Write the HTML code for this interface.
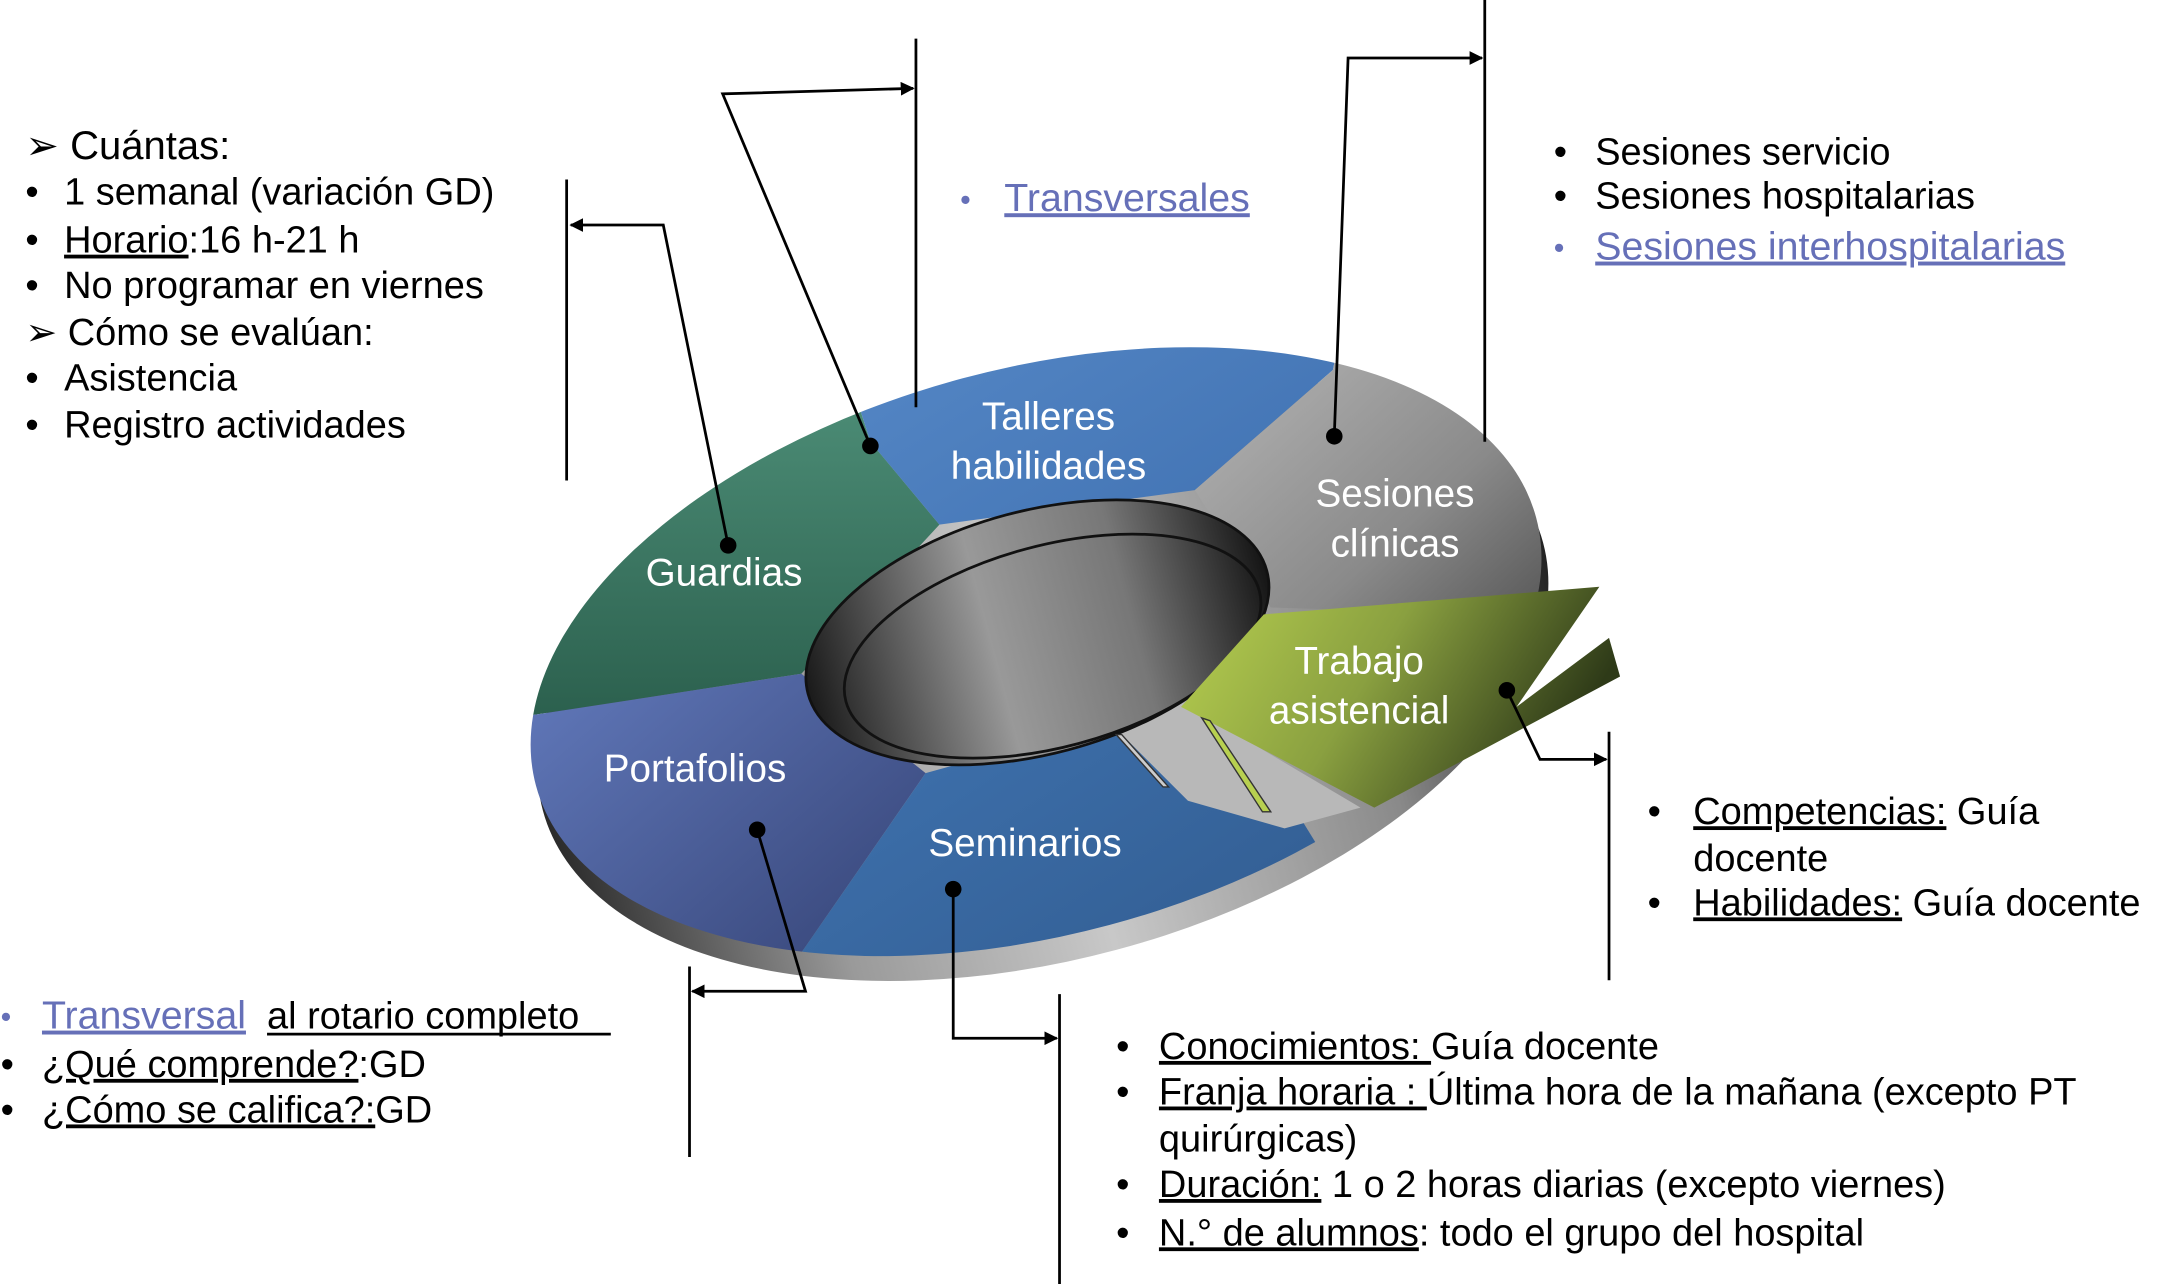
<!DOCTYPE html>
<html><head><meta charset="utf-8"><style>
html,body{margin:0;padding:0;background:#fff;}
svg{display:block;}
text{font-family:"Liberation Sans",Arial,sans-serif;}
</style></head><body>
<svg width="2166" height="1284" viewBox="0 0 1568 930" xmlns="http://www.w3.org/2000/svg">
<defs>
<linearGradient id="rim" x1="0" y1="0" x2="1" y2="0">
<stop offset="0" stop-color="#2a2a2a"/><stop offset="0.25" stop-color="#9a9a9a"/><stop offset="0.5" stop-color="#c8c8c8"/><stop offset="0.8" stop-color="#8a8a8a"/><stop offset="1" stop-color="#222"/></linearGradient>
<linearGradient id="gG" x1="0" y1="0" x2="0" y2="1"><stop offset="0" stop-color="#66b096"/><stop offset="1" stop-color="#2a5e4c"/></linearGradient>
<linearGradient id="gT" x1="0" y1="0" x2="1" y2="1"><stop offset="0" stop-color="#5f92d0"/><stop offset="1" stop-color="#3f70b0"/></linearGradient>
<linearGradient id="gS" x1="0" y1="0" x2="1" y2="1"><stop offset="0" stop-color="#d0d0d0"/><stop offset="0.6" stop-color="#8a8a8a"/><stop offset="1" stop-color="#303030"/></linearGradient>
<linearGradient id="gP" x1="0" y1="0" x2="1" y2="1"><stop offset="0" stop-color="#6c86cc"/><stop offset="1" stop-color="#26315e"/></linearGradient>
<linearGradient id="gSe" x1="0" y1="0" x2="1" y2="1"><stop offset="0" stop-color="#3f73b0"/><stop offset="1" stop-color="#2a4f7e"/></linearGradient>
<linearGradient id="gW" x1="0" y1="0" x2="1" y2="0.3"><stop offset="0" stop-color="#b8d050"/><stop offset="0.5" stop-color="#8aa040"/><stop offset="1" stop-color="#2e3a18"/></linearGradient>
<linearGradient id="hole" x1="0" y1="0" x2="1" y2="0"><stop offset="0" stop-color="#1a1a1a"/><stop offset="0.4" stop-color="#999"/><stop offset="0.7" stop-color="#777"/><stop offset="1" stop-color="#151515"/></linearGradient>
<clipPath id="outer"><ellipse cx="750" cy="472" rx="375" ry="205" transform="rotate(-15 750 472)"/></clipPath>
<marker id="ar" markerWidth="10" markerHeight="10" refX="9" refY="5" orient="auto" markerUnits="userSpaceOnUse"><path d="M0,0 L10,5 L0,10 z" fill="#000"/></marker>
</defs>

<ellipse cx="755" cy="490" rx="375" ry="205" transform="rotate(-15 755 490)" fill="url(#rim)"/>
<g clip-path="url(#outer)">
<polygon points="680,380 630,320 560,100 250,100 250,530 385,518 580,488" fill="url(#gG)"/>
<polygon points="680,380 630,320 560,100 1000,100 965,268 865,355" fill="url(#gT)"/>
<polygon points="865,355 965,268 1000,100 1250,200 1250,450 920,440" fill="url(#gS)"/>
<polygon points="580,488 385,518 250,530 250,850 580,690 670,560" fill="url(#gP)"/>
<polygon points="670,560 580,690 580,850 1100,850 940,590 850,510" fill="url(#gSe)"/>
<polygon points="800,520 850,505 985,585 930,600 860,580" fill="#b8b8b8"/>
</g>
<ellipse cx="751" cy="458" rx="172" ry="88" transform="rotate(-15 751 458)" fill="url(#hole)" stroke="#111" stroke-width="2"/>
<ellipse cx="762" cy="468" rx="155" ry="73" transform="rotate(-15 762 468)" fill="none" stroke="#111" stroke-width="2"/>
<polygon points="855,512 915,445 1158,425 1098,512 1165,462 1173,490 995,585" fill="url(#gW)"/>
<polygon points="808,532 812,532 846,570 842,570" fill="#ccc" stroke="#333"/>
<polygon points="870,520 876,522 920,588 914,588" fill="#b8d050" stroke="#333"/>

<g fill="#fff" font-size="28" text-anchor="middle">
<text x="759" y="311">Talleres</text><text x="759" y="347">habilidades</text>
<text x="1010" y="367">Sesiones</text><text x="1010" y="403">clínicas</text>
<text x="524" y="424">Guardias</text>
<text x="984" y="488">Trabajo</text><text x="984" y="524">asistencial</text>
<text x="503" y="566">Portafolios</text>
<text x="742" y="620">Seminarios</text>
</g>

<g stroke="#000" stroke-width="2" fill="none">
<line x1="410" y1="130" x2="410" y2="348"/>
<polyline points="527,395 480,163 413,163" marker-end="url(#ar)"/>
<line x1="663" y1="28" x2="663" y2="295"/>
<polyline points="630,323 523,68 661,64" marker-end="url(#ar)"/>
<line x1="1075" y1="0" x2="1075" y2="320"/>
<polyline points="966,316 976,42 1073,42" marker-end="url(#ar)"/>
<line x1="1165" y1="530" x2="1165" y2="710"/>
<polyline points="1091,500 1115,550 1163,550" marker-end="url(#ar)"/>
<line x1="499" y1="700" x2="499" y2="838"/>
<polyline points="548,601 583,718 501,718" marker-end="url(#ar)"/>
<line x1="767" y1="720" x2="767" y2="930"/>
<polyline points="690,644 690,752 765,752" marker-end="url(#ar)"/>
</g>
<g fill="#000">
<circle cx="527" cy="395" r="6"/><circle cx="630" cy="323" r="6"/><circle cx="966" cy="316" r="6"/>
<circle cx="1091" cy="500" r="6"/><circle cx="548" cy="601" r="6"/><circle cx="690" cy="644" r="6"/>
</g>

<g font-size="27.5" fill="#000">
<text x="18" y="115" font-size="29">➢ Cuántas:</text>
<text x="18" y="148">•</text><text x="46" y="148">1 semanal (variación GD)</text>
<text x="18" y="183">•</text><text x="46" y="183"><tspan text-decoration="underline">Horario</tspan>:16 h-21 h</text>
<text x="18" y="216">•</text><text x="46" y="216">No programar en viernes</text>
<text x="18" y="250">➢ Cómo se evalúan:</text>
<text x="18" y="283">•</text><text x="46" y="283">Asistencia</text>
<text x="18" y="317">•</text><text x="46" y="317">Registro actividades</text>
</g>
<text x="695" y="152" font-size="22" fill="#6670b8">•</text>
<text x="727" y="153" font-size="28.5" fill="#6670b8" text-decoration="underline">Transversales</text>

<g font-size="27.5" fill="#000">
<text x="1125" y="119">•</text><text x="1155" y="119">Sesiones servicio</text>
<text x="1125" y="151">•</text><text x="1155" y="151">Sesiones hospitalarias</text>
</g>
<text x="1125" y="187" font-size="22" fill="#6670b8">•</text>
<text x="1155" y="188" font-size="28.5" fill="#6670b8" text-decoration="underline">Sesiones interhospitalarias</text>

<g font-size="27.5" fill="#000">
<text x="1193" y="597">•</text><text x="1226" y="597"><tspan text-decoration="underline">Competencias:</tspan> Guía</text>
<text x="1226" y="631">docente</text>
<text x="1193" y="663">•</text><text x="1226" y="663"><tspan text-decoration="underline">Habilidades:</tspan> Guía docente</text>
</g>

<text x="0" y="744" font-size="22" fill="#6670b8">•</text>
<text x="30" y="745" font-size="28.5" fill="#6670b8" text-decoration="underline">Transversal</text>
<text x="193" y="745" font-size="27.5" fill="#000">al rotario completo</text>
<line x1="193" y1="749" x2="442" y2="749" stroke="#000" stroke-width="2"/>
<g font-size="27.5" fill="#000">
<text x="0" y="780">•</text><text x="30" y="780"><tspan text-decoration="underline">¿Qué comprende?</tspan>:GD</text>
<text x="0" y="813">•</text><text x="30" y="813"><tspan text-decoration="underline">¿Cómo se califica?:</tspan>GD</text>
</g>

<g font-size="27.5" fill="#000">
<text x="808" y="767">•</text><text x="839" y="767"><tspan text-decoration="underline">Conocimientos: </tspan>Guía docente</text>
<text x="808" y="800">•</text><text x="839" y="800"><tspan text-decoration="underline">Franja horaria : </tspan>Última hora de la mañana (excepto PT</text>
<text x="839" y="834">quirúrgicas)</text>
<text x="808" y="867">•</text><text x="839" y="867"><tspan text-decoration="underline">Duración:</tspan> 1 o 2 horas diarias (excepto viernes)</text>
<text x="808" y="902">•</text><text x="839" y="902"><tspan text-decoration="underline">N.° de alumnos</tspan>: todo el grupo del hospital</text>
</g>
</svg>
</body></html>
